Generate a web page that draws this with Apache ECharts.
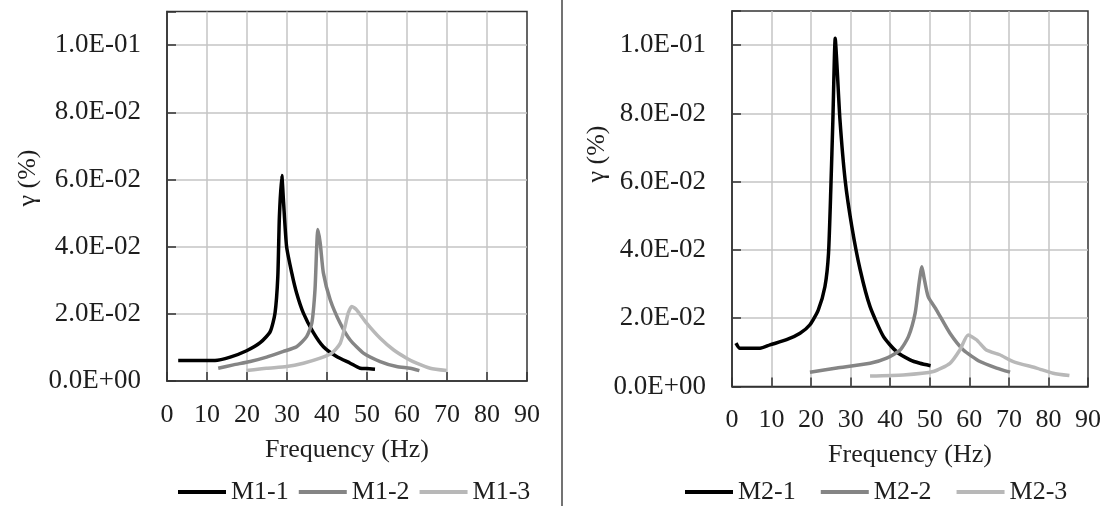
<!DOCTYPE html>
<html>
<head>
<meta charset="utf-8">
<script src="https://cdn.jsdelivr.net/npm/echarts@6/dist/echarts.min.js"></script>
<style>
html,body{margin:0;padding:0;background:#fff;}
#c{width:1113px;height:506px;}
</style>
</head>
<body>
<div id="c"></div>
<script>
// ---- data ----
const xTicks = [0, 10, 20, 30, 40, 50, 60, 70, 80, 90];
const yTickLabels = ['0.0E+00', '2.0E-02', '4.0E-02', '6.0E-02', '8.0E-02', '1.0E-01'];

const freqM11 = [2.8, 8, 12, 15.8, 19.9, 23.3, 25.8, 27.0, 27.7, 28.1, 28.7, 29.1, 29.9, 31.2, 32.4, 34.1, 36.6, 39.1, 42.4, 45.8, 48.3, 50, 52];
const valM11  = [0.0061, 0.0061, 0.0061, 0.0071, 0.0090, 0.0114, 0.0147, 0.0202, 0.0310, 0.0490, 0.0612, 0.0540, 0.0400, 0.0321, 0.0262, 0.0202, 0.0144, 0.0102, 0.0073, 0.0053, 0.0038, 0.0037, 0.0035];

const freqM12 = [12.8, 16.6, 20.8, 24.9, 29.1, 32.4, 34.9, 36.2, 37.0, 37.4, 37.7, 38.3, 39.1, 40.8, 43.3, 45.8, 49.1, 53.3, 57.4, 60.8, 63.1];
const valM12  = [0.0038, 0.0048, 0.0058, 0.0071, 0.0088, 0.0102, 0.0132, 0.0172, 0.0272, 0.0391, 0.0451, 0.0411, 0.0321, 0.0242, 0.0172, 0.0122, 0.0083, 0.0058, 0.0043, 0.0038, 0.0031];

const freqM13 = [19.9, 24.9, 29.9, 34.1, 38.3, 41.2, 43.3, 44.5, 45.3, 46.2, 47.4, 49.9, 53.3, 56.6, 59.9, 62.4, 65.8, 69.9];
const valM13  = [0.0031, 0.0038, 0.0043, 0.0053, 0.0068, 0.0083, 0.0112, 0.0162, 0.0202, 0.0222, 0.0212, 0.0172, 0.0127, 0.0093, 0.0068, 0.0053, 0.0038, 0.0031];

const freqM21 = [1.0, 2.0, 7.1, 9.6, 13.8, 17.2, 19.7, 21.8, 23.5, 24.4, 25.0, 25.5, 26.1, 26.6, 27.3, 28.6, 30.3, 32.4, 34.9, 38.3, 41.6, 45.0, 47.5, 50.2];
const valM21  = [0.0127, 0.0112, 0.0112, 0.0122, 0.0137, 0.0156, 0.0181, 0.0224, 0.0293, 0.0390, 0.0585, 0.0780, 0.1020, 0.0927, 0.0780, 0.0605, 0.0468, 0.0342, 0.0234, 0.0146, 0.0102, 0.0078, 0.0068, 0.0061];

const freqM22 = [19.7, 26.5, 34.9, 39.1, 42.5, 44.6, 46.3, 47.3, 48.0, 48.5, 49.6, 51.7, 55.1, 58.5, 62.7, 66.9, 70.3];
const valM22  = [0.0042, 0.0054, 0.0068, 0.0083, 0.0107, 0.0146, 0.0215, 0.0303, 0.0351, 0.0322, 0.0263, 0.0224, 0.0156, 0.0107, 0.0073, 0.0054, 0.0042];

const freqM23 = [34.9, 43.3, 50.9, 55.1, 57.6, 59.7, 61.8, 64.3, 67.7, 71.1, 77.0, 81.2, 85.3];
const valM23  = [0.0031, 0.0034, 0.0044, 0.0068, 0.0107, 0.0151, 0.0137, 0.0107, 0.0093, 0.0073, 0.0054, 0.0039, 0.0032];

const seriesNames = ['M1-1', 'M1-2', 'M1-3', 'M2-1', 'M2-2', 'M2-3'];
const xName = 'Frequency (Hz)';
const yName = 'γ (%)';

// ---- build ----
const FONT = 'Liberation Serif';
const FS = 26;
const FSY = 27;
const TXT = '#1e1e1e';
const colors = ['#000000', '#858585', '#b8b8b8'];
function zip(a, b) { return a.map((v, i) => [v, b[i]]); }
function yFmt(v) {
  const idx = Math.round(v / 0.02);
  if (Math.abs(v - idx * 0.02) < 1e-9 && idx < yTickLabels.length) return yTickLabels[idx];
  return '';
}
function xAxisOpt(gi) {
  return {
    type: 'value', gridIndex: gi, min: 0, max: 90, interval: 10,
    name: xName, nameLocation: 'middle', nameGap: 56,
    nameTextStyle: { fontFamily: FONT, fontSize: FS, color: TXT },
    axisLine: { show: true, lineStyle: { color: '#333', width: 1.5 } },
    axisTick: { show: true, inside: true, length: 9, lineStyle: { color: '#333', width: 1.5 } },
    axisLabel: { fontFamily: FONT, fontSize: FS, color: TXT, margin: 21 },
    splitLine: { show: true, showMinLine: false, showMaxLine: false, lineStyle: { color: '#c4c4c4', width: 1.5 } }
  };
}
function yAxisOpt(gi) {
  return {
    type: 'value', gridIndex: gi, min: 0, max: 0.11, interval: 0.02,
    axisLine: { show: true, lineStyle: { color: '#333', width: 1.5 } },
    axisTick: { show: true, inside: true, length: 9, lineStyle: { color: '#333', width: 1.5 } },
    axisLabel: { fontFamily: FONT, fontSize: FSY, color: TXT, margin: 26, formatter: yFmt },
    splitLine: { show: true, showMinLine: false, showMaxLine: false, lineStyle: { color: '#c4c4c4', width: 1.5 } }
  };
}
function lineSeries(name, fx, fy, gi, ci) {
  return {
    name: name, type: 'line', xAxisIndex: gi, yAxisIndex: gi,
    data: zip(fx, fy), showSymbol: false, symbol: 'none', smooth: 0.2,
    lineStyle: { color: colors[ci], width: 3.5 }, itemStyle: { color: colors[ci] },
    animation: false
  };
}
const legendCommon = {
  itemWidth: 48, itemHeight: 4, icon: 'rect',
  textStyle: { fontFamily: FONT, fontSize: FS, color: TXT }
};

const chart = echarts.init(document.getElementById('c'), null, { renderer: 'canvas' });
chart.setOption({
  animation: false,
  backgroundColor: '#ffffff',
  grid: [
    { left: 167, top: 11.5, width: 360, height: 369.5, show: true, borderColor: '#333', borderWidth: 1.5, containLabel: false },
    { left: 732, top: 11, width: 356, height: 375.5, show: true, borderColor: '#333', borderWidth: 1.5, containLabel: false }
  ],
  xAxis: [xAxisOpt(0), xAxisOpt(1)],
  yAxis: [yAxisOpt(0), yAxisOpt(1)],
  legend: [
    Object.assign({ data: seriesNames.slice(0, 3), left: 173, top: 474, itemGap: 10 }, legendCommon),
    Object.assign({ data: seriesNames.slice(3, 6), left: 680, top: 474, itemGap: 25 }, legendCommon)
  ],
  series: [
    lineSeries(seriesNames[0], freqM11, valM11, 0, 0),
    lineSeries(seriesNames[1], freqM12, valM12, 0, 1),
    lineSeries(seriesNames[2], freqM13, valM13, 0, 2),
    lineSeries(seriesNames[3], freqM21, valM21, 1, 0),
    lineSeries(seriesNames[4], freqM22, valM22, 1, 1),
    lineSeries(seriesNames[5], freqM23, valM23, 1, 2)
  ],
  graphic: [
    { type: 'line', shape: { x1: 562, y1: 0, x2: 562, y2: 506 }, style: { stroke: '#444', lineWidth: 1.5 } },
    { type: 'text', x: 28, y: 178, rotation: Math.PI / 2,
      style: { text: yName, font: FS + 'px "' + FONT + '"', fill: TXT, align: 'center', verticalAlign: 'middle' } },
    { type: 'text', x: 597, y: 154, rotation: Math.PI / 2,
      style: { text: yName, font: FS + 'px "' + FONT + '"', fill: TXT, align: 'center', verticalAlign: 'middle' } }
  ]
});
</script>
</body>
</html>
